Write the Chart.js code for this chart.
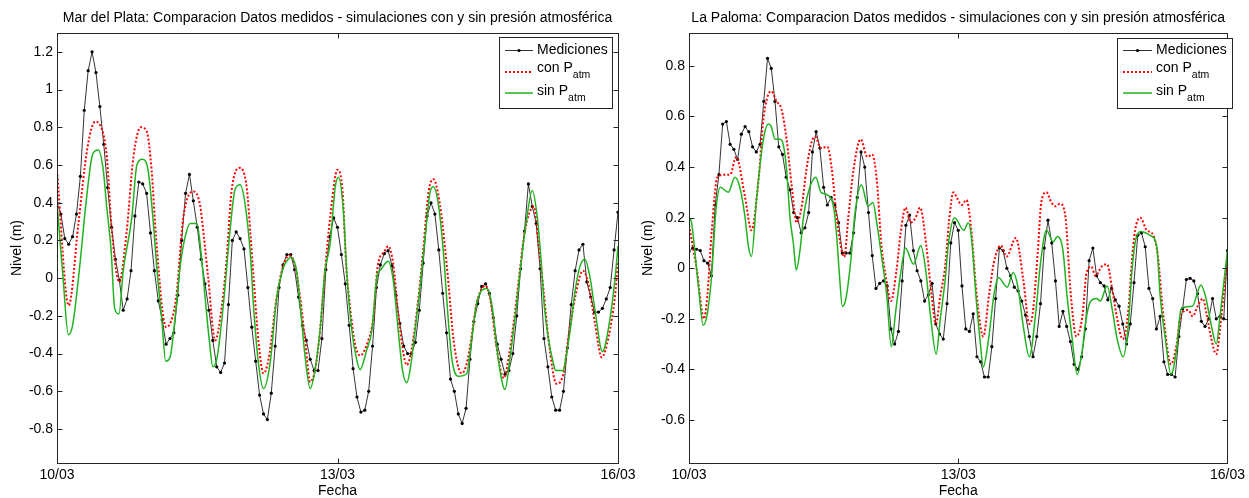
<!DOCTYPE html>
<html>
<head>
<meta charset="utf-8">
<script src="https://cdn.jsdelivr.net/npm/chart.js"></script>
<style>
  body { margin: 0; background: #fff; width: 1249px; height: 498px; overflow: hidden; position: relative; }
  canvas { position: absolute; top: 0; }
  #mdp { left: 0; }
  #lp { left: 640px; }
</style>
</head>
<body>
<canvas id="mdp" width="640" height="498"></canvas>
<canvas id="lp" width="609" height="498"></canvas>
<script>
// fechas (horas desde 10/03 00:00)
var fechaHoras = [0, 72, 144];
var fechaTicks = ['10/03', '13/03', '16/03'];

// Mar del Plata - mediciones horarias (m)
var mdpMedidos = [
  0.40, 0.34, 0.21, 0.18, 0.22, 0.34, 0.54, 0.89, 1.10, 1.20,
  1.09, 0.91, 0.71, 0.48, 0.27, 0.10, -0.01, -0.17, -0.11, 0.04,
  0.33, 0.51, 0.50, 0.45, 0.24, 0.04, -0.12, -0.22, -0.35, -0.32,
  -0.29, -0.09, 0.20, 0.45, 0.55, 0.41, 0.27, 0.10, -0.03, -0.17,
  -0.33, -0.47, -0.50, -0.45, -0.14, 0.20, 0.245, 0.21, 0.155, -0.05,
  -0.26, -0.44, -0.62, -0.72, -0.75, -0.61, -0.36, -0.05, 0.07, 0.125,
  0.125, 0.045, -0.10, -0.25, -0.33, -0.43, -0.49, -0.49, -0.32, 0.045,
  0.22, 0.32, 0.27, 0.125, -0.03, -0.25, -0.48, -0.63, -0.71, -0.70,
  -0.60, -0.36, -0.05, 0.07, 0.13, 0.146, 0.066, -0.09, -0.24, -0.36,
  -0.40, -0.40, -0.34, -0.17, 0.08, 0.33, 0.40, 0.34, 0.15, -0.08,
  -0.29, -0.535, -0.60, -0.72, -0.77, -0.69, -0.43, -0.23, -0.135, -0.044,
  -0.03, -0.08, -0.21, -0.35, -0.43, -0.51, -0.49, -0.40, -0.20, 0.05,
  0.25, 0.50, 0.38, 0.29, 0.05, -0.32, -0.47, -0.63, -0.70, -0.70,
  -0.60, -0.37, -0.14, 0.04, 0.15, 0.18, -0.02, -0.10, -0.18, -0.18,
  -0.16, -0.11, -0.05, 0.15, 0.35
];

// Mar del Plata - simulacion con presion [hora, nivel]
var mdpCon = [
  [0,0.57],[3,-0.145],[5.5,0.29],[7.8,0.69],[9.8,0.83],[10.8,0.82],[12.8,0.64],[14,0.27],[16,-0.02],[17.9,0.25],
  [19.6,0.64],[21.5,0.80],[23,0.78],[24.3,0.57],[25.4,0.22],[28,-0.26],[30.6,-0.10],[32.4,0.32],[35,0.46],[36.7,0.39],
  [37.7,0.22],[38.8,0.005],[40.6,-0.33],[42.3,-0.15],[43.5,0.09],[44.8,0.46],[47,0.585],[48.7,0.48],[49.7,0.22],[50.4,0.02],
  [51.7,-0.33],[53,-0.505],[54.3,-0.43],[56.4,-0.10],[58,0.06],[59.6,0.12],[61,0.076],[62.4,-0.10],[63.7,-0.33],[65,-0.55],
  [66.2,-0.49],[67.5,-0.28],[68.8,0.04],[70.1,0.32],[72,0.575],[73.3,0.46],[74.2,0.08],[75.2,-0.15],[76.5,-0.35],[77.8,-0.41],
  [79.9,-0.33],[81.2,-0.21],[82.3,0.06],[84,0.14],[85,0.17],[86.3,0.076],[87.6,-0.19],[89.8,-0.46],[91,-0.38],[92.8,-0.10],
  [94,0.15],[95.4,0.46],[96.6,0.525],[98.3,0.39],[99.6,0.16],[100.5,-0.03],[101.8,-0.33],[103.9,-0.505],[105.2,-0.45],[106.4,-0.31],
  [107.7,-0.135],[110,-0.04],[111.4,-0.135],[112.7,-0.35],[114.7,-0.53],[116.1,-0.40],[117.5,-0.19],[118.8,0.04],[120.1,0.25],[122.4,0.38],
  [123.6,0.18],[124.9,-0.065],[126.2,-0.33],[128.2,-0.56],[130,-0.505],[131.3,-0.31],[133,-0.10],[135,0.04],[136.4,-0.03],[138.1,-0.24],
  [139.8,-0.42],[141.6,-0.31],[143.2,-0.10],[144,0.08]
];

// Mar del Plata - simulacion sin presion [hora, nivel]
var mdpSin = [
  [0,0.40],[1.6,-0.01],[2.9,-0.30],[4,-0.25],[5.9,0.076],[7.4,0.39],[9.2,0.66],[10.6,0.68],[11.9,0.57],[12.7,0.39],
  [13.9,0.146],[14.8,-0.16],[15.9,-0.19],[17,0.04],[19.2,0.32],[20.5,0.60],[21.9,0.63],[23.4,0.57],[24.9,0.25],[25.6,0.06],
  [26.9,-0.22],[27.9,-0.44],[29,-0.42],[30.3,-0.21],[31.6,0.06],[32.9,0.22],[34.2,0.29],[35.9,0.29],[37.1,0.11],[38,-0.10],
  [39.1,-0.33],[40,-0.47],[41.1,-0.42],[42.8,-0.12],[44.4,0.25],[45.7,0.47],[47,0.495],[48.3,0.39],[49.7,0.11],[50.4,-0.135],
  [51.7,-0.45],[53,-0.585],[54.7,-0.45],[56.4,-0.10],[58,0.05],[58.8,0.085],[60,0.11],[61.5,0.04],[62.4,-0.135],[63.7,-0.42],
  [65,-0.585],[66.2,-0.49],[67.5,-0.28],[68.8,0.04],[70.1,0.18],[71.4,0.48],[72.2,0.535],[73.5,0.36],[74.4,0.02],[75.7,-0.28],
  [76.8,-0.42],[77.8,-0.485],[79.5,-0.38],[80.8,-0.28],[82.2,0.02],[82.9,0.04],[85,0.09],[86.3,-0.01],[87.6,-0.28],[88.7,-0.49],
  [89.8,-0.555],[90.6,-0.49],[91.9,-0.28],[93.2,-0.045],[94.5,0.22],[95.7,0.45],[96.6,0.485],[97.9,0.39],[99.3,0.11],[100,-0.10],
  [101.3,-0.42],[103,-0.52],[105.2,-0.505],[106.4,-0.33],[107.7,-0.135],[110.3,-0.055],[111.7,-0.15],[113.2,-0.42],[115,-0.59],[116.3,-0.42],
  [117.8,-0.17],[119,0.06],[120.4,0.29],[122,0.465],[123.3,0.32],[124.2,0.11],[125.1,-0.15],[126.2,-0.33],[127.4,-0.45],[128,-0.49],
  [130,-0.49],[130.4,-0.45],[131.7,-0.28],[133,-0.065],[134.2,0.06],[135.5,0.10],[136.8,0.005],[138.1,-0.17],[140,-0.39],[141.6,-0.26],
  [143.2,-0.01],[144,0.17]
];

// La Paloma - mediciones horarias (m)
var lpMedidos = [
  0.066, 0.08, 0.075, 0.07, 0.03, 0.02, -0.03, 0.25, 0.37, 0.57,
  0.58, 0.49, 0.47, 0.43, 0.53, 0.56, 0.54, 0.48, 0.46, 0.49,
  0.66, 0.83, 0.79, 0.66, 0.48, 0.45, 0.36, 0.31, 0.22, 0.20,
  0.14, 0.16, 0.22, 0.46, 0.54, 0.475, 0.32, 0.25, 0.28, 0.25,
  0.18, 0.06, 0.06, 0.06, 0.14, 0.28, 0.46, 0.40, 0.22, 0.05,
  -0.08, -0.06, -0.05, -0.07, -0.24, -0.30, -0.25, -0.05, 0.17, 0.21,
  0.07, -0.01, -0.05, -0.13, -0.105, -0.06, -0.22, -0.26, -0.28, -0.14,
  0.10, 0.18, 0.15, -0.07, -0.24, -0.25, -0.18, -0.35, -0.37, -0.43,
  -0.43, -0.31, -0.12, 0.08, 0.07, 0.0, -0.03, -0.075, -0.09, -0.13,
  -0.185, -0.27, -0.35, -0.27, -0.14, 0.08, 0.19, 0.10, -0.05, -0.23,
  -0.17, -0.23, -0.29, -0.38, -0.40, -0.35, -0.24, 0.03, 0.08, -0.03,
  -0.057, -0.07, -0.125, -0.08, -0.125, -0.15, -0.22, -0.30, -0.22, -0.057,
  0.13, 0.14, 0.085, -0.08, -0.12, -0.24, -0.19, -0.37, -0.42, -0.42,
  -0.43, -0.27, -0.16, -0.045, -0.04, -0.05, -0.10, -0.21, -0.23, -0.20,
  -0.12, -0.20, -0.19, -0.20, 0.07
];

// La Paloma - simulacion con presion [hora, nivel]
var lpCon = [
  [0,0.17],[2.1,-0.007],[4,-0.20],[4.9,-0.11],[6.1,0.15],[7.6,0.36],[9.6,0.37],[11,0.37],[12.6,0.44],[15,0.28],
  [16.7,0.15],[18.6,0.35],[19.9,0.59],[22,0.70],[23.4,0.66],[24.7,0.63],[26.1,0.51],[27.5,0.32],[28.8,0.18],[30.1,0.24],
  [31.4,0.39],[32.8,0.50],[33.8,0.52],[35.2,0.475],[37,0.48],[38.2,0.39],[39.5,0.20],[41.5,0.045],[42.6,0.20],[44,0.39],
  [45.9,0.51],[47.7,0.44],[49,0.45],[50.2,0.35],[51.5,0.085],[52.6,-0.03],[54,-0.13],[55.5,-0.007],[56.6,0.14],[57.9,0.24],
  [59.3,0.18],[60.6,0.20],[61.8,0.24],[63.5,0.085],[64.9,-0.11],[66,-0.22],[67.2,-0.11],[68.6,0.02],[69.5,0.18],[70.7,0.30],
  [71.6,0.28],[72.9,0.25],[74.2,0.27],[75.5,0.15],[76.9,-0.10],[78.7,-0.27],[80.2,-0.11],[81.5,0.02],[83.4,0.09],[84.9,0.046],
  [87.4,0.12],[89.4,-0.046],[91,-0.22],[91.9,-0.18],[93.3,0.07],[94.2,0.26],[95.6,0.30],[96.9,0.26],[98,0.245],[99.2,0.255],
  [100.7,0.20],[102,-0.086],[103.6,-0.27],[105.2,-0.19],[106.3,-0.02],[107.6,0.006],[108.7,-0.03],[110.3,0.006],[111.8,0.016],[113.2,-0.086],
  [114.5,-0.20],[116,-0.28],[117.5,-0.165],[118.4,0.02],[119.3,0.15],[120.7,0.20],[122.4,0.15],[124.2,0.13],[125.4,0.046],[126.8,-0.18],
  [128.9,-0.38],[130.4,-0.30],[131.3,-0.20],[132.3,-0.17],[133.5,-0.165],[134.7,-0.19],[136,-0.15],[137.4,-0.12],[138.4,-0.18],[139.7,-0.28],
  [141,-0.34],[142,-0.24],[143.1,-0.086],[144,0.04]
];

// La Paloma - simulacion sin presion [hora, nivel]
var lpSin = [
  [0,0.20],[0.6,0.185],[2.5,-0.07],[3.8,-0.225],[4.9,-0.18],[6.1,-0.02],[7.2,0.23],[8.4,0.32],[10.5,0.30],[12.3,0.36],
  [13.6,0.32],[15,0.20],[15.9,0.085],[16.7,0.046],[18.1,0.28],[19.9,0.51],[21.2,0.57],[22,0.56],[23,0.51],[24.3,0.51],
  [25.2,0.49],[26.1,0.39],[27,0.20],[27.9,0.10],[28.7,-0.007],[29.8,0.085],[30.6,0.20],[31.9,0.30],[33.9,0.36],[35.3,0.30],
  [37,0.29],[38.8,0.23],[39.5,0.125],[40.2,-0.02],[41,-0.15],[41.9,-0.125],[43.2,0.02],[44.4,0.22],[46.1,0.33],[47.9,0.245],
  [49.2,0.26],[50.2,0.18],[51.5,0.046],[52.9,-0.11],[54.1,-0.31],[55.2,-0.18],[56.6,-0.02],[57.9,0.08],[60,0.016],[62,0.09],
  [63.3,-0.007],[64.6,-0.19],[66.1,-0.34],[67.2,-0.20],[68.5,-0.046],[69.4,0.10],[71,0.20],[73.5,0.15],[74.7,0.18],[75.5,0.125],
  [76.9,-0.14],[77.8,-0.28],[78.7,-0.39],[80.2,-0.27],[81.5,-0.11],[82.7,-0.037],[85.1,-0.075],[86.7,-0.017],[87.9,-0.07],[89.4,-0.23],
  [91,-0.35],[92.7,-0.18],[94,0.02],[95.6,0.15],[97.4,0.105],[98.5,0.125],[100,0.07],[101.1,-0.11],[102.4,-0.27],[103.8,-0.42],
  [105.2,-0.32],[106,-0.22],[107.2,-0.136],[109,-0.12],[110,-0.13],[111.8,-0.07],[113.2,-0.165],[114.5,-0.28],[116.1,-0.35],[117.5,-0.22],
  [118.4,-0.02],[119.3,0.10],[120.7,0.145],[123.3,0.13],[125.1,0.085],[126,-0.11],[127.4,-0.28],[128.9,-0.42],[130.4,-0.32],[131.6,-0.16],
  [134.6,-0.15],[136.9,-0.066],[138.1,-0.11],[139.6,-0.22],[141,-0.30],[142,-0.19],[143.1,-0.046],[144,0.07]
];

var FONT = '"Liberation Sans", Arial, Helvetica, sans-serif';

// ejes estilo matlab: caja, ticks hacia adentro, titulos y leyenda con subindice
var matlabAxes = {
  id: 'matlabAxes',
  afterDraw: function(chart, args, o) {
    var ctx = chart.ctx, a = chart.chartArea;
    var xs = chart.scales.x, ys = chart.scales.y;
    var L = Math.floor(a.left) + 0.5, R = Math.floor(a.right) + 0.5;
    var T = Math.floor(a.top) + 0.5, B = Math.floor(a.bottom) + 0.5;
    ctx.save();
    ctx.strokeStyle = '#262626';
    ctx.lineWidth = 1;
    ctx.strokeRect(L, T, R - L, B - T);
    ctx.beginPath();
    ys.ticks.forEach(function(t) {
      var y = Math.round(ys.getPixelForValue(t.value)) + 0.5;
      ctx.moveTo(L, y); ctx.lineTo(L + 5, y);
      ctx.moveTo(R, y); ctx.lineTo(R - 5, y);
    });
    xs.ticks.forEach(function(t) {
      var x = Math.round(xs.getPixelForValue(t.value)) + 0.5;
      ctx.moveTo(x, B); ctx.lineTo(x, B - 5);
      ctx.moveTo(x, T); ctx.lineTo(x, T + 5);
    });
    ctx.stroke();

    var cx = (a.left + a.right) / 2;
    ctx.fillStyle = '#000';
    ctx.font = '14px ' + FONT;
    ctx.textAlign = 'center';
    ctx.textBaseline = 'middle';
    ctx.fillText(o.title, cx, 18);
    ctx.fillText('Fecha', cx, 491);
    ctx.save();
    ctx.translate(o.ylabelX, (a.top + a.bottom) / 2);
    ctx.rotate(-Math.PI / 2);
    ctx.fillText('Nivel (m)', 0, 0);
    ctx.restore();

    // leyenda
    var g = o.legend;
    ctx.fillStyle = '#fff';
    ctx.fillRect(g.x0, g.y0, g.x1 - g.x0, g.y1 - g.y0);
    ctx.strokeStyle = '#262626';
    ctx.strokeRect(g.x0 + 0.5, g.y0 + 0.5, g.x1 - g.x0, g.y1 - g.y0);

    ctx.lineWidth = 1;
    ctx.strokeStyle = '#333';
    ctx.beginPath(); ctx.moveTo(g.l0, 50.5); ctx.lineTo(g.l1, 50.5); ctx.stroke();
    ctx.fillStyle = '#000';
    ctx.beginPath(); ctx.arc((g.l0 + g.l1) / 2, 50.5, 1.6, 0, Math.PI * 2); ctx.fill();

    ctx.lineWidth = 2;
    ctx.strokeStyle = '#ff0000';
    ctx.setLineDash([2, 2]);
    ctx.beginPath(); ctx.moveTo(g.l0, 72); ctx.lineTo(g.l1, 72); ctx.stroke();
    ctx.setLineDash([]);

    ctx.lineWidth = 1.5;
    ctx.strokeStyle = '#1fb41f';
    ctx.beginPath(); ctx.moveTo(g.l0, 93); ctx.lineTo(g.l1, 93); ctx.stroke();

    ctx.fillStyle = '#000';
    ctx.textAlign = 'left';
    ctx.font = '14px ' + FONT;
    ctx.fillText('Mediciones', g.tx, 50);
    ctx.fillText('con P', g.tx, 68);
    ctx.fillText('sin P', g.tx, 91);
    var w1 = ctx.measureText('con P').width, w2 = ctx.measureText('sin P').width;
    ctx.font = '10.5px ' + FONT;
    ctx.fillText('atm', g.tx + w1, 75.5);
    ctx.fillText('atm', g.tx + w2, 98.5);
    ctx.restore();
  }
};

function fmtNivel(v) {
  var r = Math.round(v * 10) / 10;
  return r === 0 ? '0' : String(r);
}

function makeChart(id, medidos, con, sin, yMin, yMax, yWidth, padRight, opts) {
  var tickFont = { family: FONT, size: 14 };
  return new Chart(document.getElementById(id), {
    type: 'line',
    data: {
      datasets: [
        {
          label: 'Mediciones',
          data: medidos.map(function(v, i) { return { x: i, y: v }; }),
          borderColor: 'rgba(0,0,0,0.8)',
          borderWidth: 1,
          pointRadius: 1.6,
          pointBackgroundColor: '#000',
          pointBorderWidth: 0,
          tension: 0,
          order: 3
        },
        {
          label: 'con Patm',
          data: con.map(function(p) { return { x: p[0], y: p[1] }; }),
          borderColor: '#ff0000',
          borderWidth: 2,
          borderDash: [2, 2],
          pointRadius: 0,
          cubicInterpolationMode: 'monotone',
          order: 2
        },
        {
          label: 'sin Patm',
          data: sin.map(function(p) { return { x: p[0], y: p[1] }; }),
          borderColor: '#1fb41f',
          borderWidth: 1.5,
          pointRadius: 0,
          cubicInterpolationMode: 'monotone',
          order: 1
        }
      ]
    },
    options: {
      responsive: false,
      animation: false,
      devicePixelRatio: 1,
      layout: { padding: { top: 33, right: padRight, left: 0, bottom: 0 } },
      plugins: {
        legend: { display: false },
        tooltip: { enabled: false },
        matlabAxes: opts
      },
      scales: {
        x: {
          type: 'linear',
          min: 0,
          max: 144,
          grid: { display: false, drawTicks: false },
          border: { display: false },
          afterBuildTicks: function(s) { s.ticks = fechaHoras.map(function(v) { return { value: v }; }); },
          afterFit: function(s) { s.height = 35; },
          ticks: {
            autoSkip: false,
            maxRotation: 0,
            padding: 4,
            color: '#000',
            font: tickFont,
            callback: function(v) { return fechaTicks[fechaHoras.indexOf(v)]; }
          }
        },
        y: {
          min: yMin,
          max: yMax,
          grid: { display: false, drawTicks: false },
          border: { display: false },
          afterFit: function(s) { s.width = yWidth; },
          ticks: {
            stepSize: 0.2,
            includeBounds: false,
            padding: 4,
            color: '#000',
            font: tickFont,
            callback: fmtNivel
          }
        }
      }
    },
    plugins: [matlabAxes]
  });
}

makeChart('mdp', mdpMedidos, mdpCon, mdpSin, -0.98, 1.3, 57, 22, {
  title: 'Mar del Plata: Comparacion Datos medidos - simulaciones con y sin presión atmosférica',
  ylabelX: 17,
  legend: { x0: 499, y0: 37, x1: 612, y1: 108, l0: 505, l1: 533, tx: 537 }
});

makeChart('lp', lpMedidos, lpCon, lpSin, -0.77, 0.93, 49, 21, {
  title: 'La Paloma: Comparacion Datos medidos - simulaciones con y sin presión atmosférica',
  ylabelX: 8,
  legend: { x0: 477, y0: 38, x1: 592, y1: 108, l0: 483, l1: 512, tx: 516 }
});
</script>
</body>
</html>
